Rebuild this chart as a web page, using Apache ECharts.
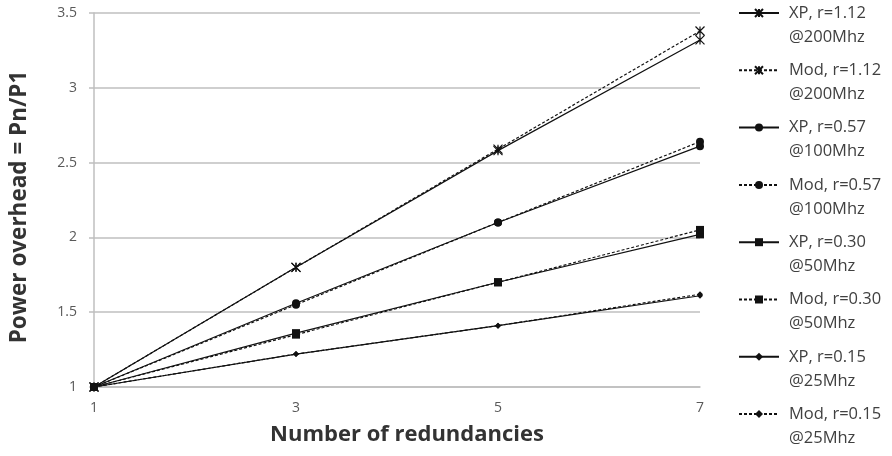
<!DOCTYPE html>
<html>
<head>
<meta charset="utf-8">
<script src="https://cdn.jsdelivr.net/npm/echarts@6/dist/echarts.min.js"></script>
<style>
  html, body { margin: 0; padding: 0; background: #fff; }
  #chart { width: 892px; height: 456px; }
</style>
</head>
<body>
<div id="chart"></div>
<script>
// Number of redundant copies (category axis)
const redundancies = ['1', '3', '5', '7'];

// Power overhead Pn/P1 for each configuration
const xp112  = [1, 1.80, 2.58, 3.32];
const mod112 = [1, 1.80, 2.59, 3.38];
const xp057  = [1, 1.56, 2.10, 2.61];
const mod057 = [1, 1.55, 2.10, 2.64];
const xp030  = [1, 1.36, 1.70, 2.02];
const mod030 = [1, 1.35, 1.70, 2.05];
const xp015  = [1, 1.22, 1.41, 1.61];
const mod015 = [1, 1.22, 1.41, 1.62];

const seriesNames = [
  'XP, r=1.12\n@200Mhz', 'Mod, r=1.12\n@200Mhz',
  'XP, r=0.57\n@100Mhz', 'Mod, r=0.57\n@100Mhz',
  'XP, r=0.30\n@50Mhz',  'Mod, r=0.30\n@50Mhz',
  'XP, r=0.15\n@25Mhz',  'Mod, r=0.15\n@25Mhz'
];
const seriesValues = [xp112, mod112, xp057, mod057, xp030, mod030, xp015, mod015];

const FONT = '"Open Sans", Lato, sans-serif';
const star = 'path://M0,0L10,10M10,0L0,10M5,0L5,10';
const markers = [
  { symbol: star, size: 9 },
  { symbol: star, size: 9 },
  { symbol: 'circle', size: 8 },
  { symbol: 'circle', size: 8 },
  { symbol: 'rect', size: 8 },
  { symbol: 'rect', size: 8 },
  { symbol: 'diamond', size: 6 },
  { symbol: 'diamond', size: 6 }
];

const series = seriesNames.map((name, i) => {
  const dashed = i % 2 === 1;
  return {
    name: name,
    type: 'line',
    data: seriesValues[i],
    symbol: markers[i].symbol,
    symbolSize: markers[i].size,
    showAllSymbol: true,
    animation: false,
    lineStyle: { color: '#111', width: 1.2, type: dashed ? [3, 2] : 'solid' },
    itemStyle: { color: '#111', borderColor: '#111', borderWidth: markers[i].symbol === star ? 1.2 : 0 },
    emphasis: { disabled: true }
  };
});

const chart = echarts.init(document.getElementById('chart'));
chart.setOption({
  backgroundColor: '#fff',
  animation: false,
  grid: { left: 91, right: 192, top: 13, bottom: 69 },
  legend: {
    orient: 'vertical',
    left: 738,
    top: -23,
    height: 800,
    padding: 0,
    itemWidth: 40,
    itemHeight: 10,
    itemGap: -14.7,
    // a leading blank line puts the first label line level with the icon
    formatter: name => '\n' + name,
    textStyle: {
      fontFamily: FONT,
      fontSize: 16.5,
      color: '#404040',
      lineHeight: 24,
      padding: [0, 0, 0, 5]
    },
    data: seriesNames
  },
  xAxis: {
    type: 'category',
    data: redundancies,
    boundaryGap: false,
    name: 'Number of redundancies',
    nameLocation: 'middle',
    nameGap: 37,
    nameTextStyle: { fontFamily: FONT, fontSize: 22, fontWeight: 'bold', color: '#333', padding: [0, 0, 0, 20] },
    axisLine: { lineStyle: { color: '#bfbfbf', width: 1.5 } },
    axisTick: { show: false },
    axisLabel: { fontFamily: FONT, fontSize: 14, color: '#595959', margin: 14 },
    splitLine: { show: false }
  },
  yAxis: {
    type: 'value',
    min: 1,
    max: 3.5,
    interval: 0.5,
    name: 'Power overhead = Pn/P1',
    nameLocation: 'middle',
    nameGap: 63,
    nameTextStyle: { fontFamily: FONT, fontSize: 22.5, fontWeight: 'bold', color: '#333', padding: [0, 14, 0, 0] },
    axisLine: { show: true, lineStyle: { color: '#bfbfbf', width: 1.5 } },
    axisTick: { show: true, length: 5, lineStyle: { color: '#bfbfbf', width: 1.5 } },
    axisLabel: { fontFamily: FONT, fontSize: 14, color: '#595959', margin: 17 },
    splitLine: { lineStyle: { color: '#bfbfbf', width: 1.5 } }
  },
  series: series
});
</script>
</body>
</html>
